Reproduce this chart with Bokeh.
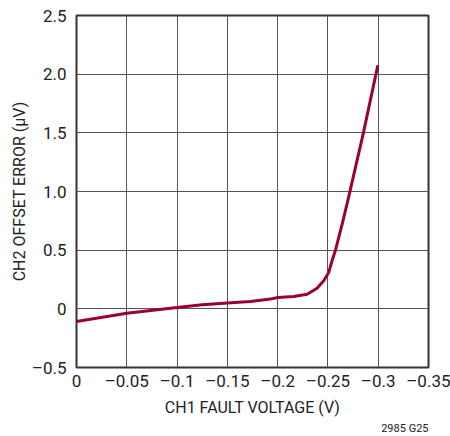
from bokeh.plotting import figure
from bokeh.models import Range1d, FixedTicker, Title
from bokeh.embed import file_html
from bokeh.resources import INLINE

# data
fault_v = [0, -0.05, -0.1, -0.125, -0.15, -0.1728, -0.183, -0.1927, -0.2,
           -0.216, -0.2293, -0.2392, -0.2458, -0.2508, -0.2541, -0.2575,
           -0.2641, -0.2697, -0.285, -0.2994]
offset_uv = [-0.108, -0.037, 0.011, 0.034, 0.05, 0.062, 0.074, 0.083, 0.096,
             0.105, 0.125, 0.176, 0.239, 0.31, 0.41, 0.50,
             0.72, 0.92, 1.489, 2.066]

x_ticks = [0, -0.05, -0.1, -0.15, -0.2, -0.25, -0.3, -0.35]
x_tick_labels = ["0", "–0.05", "–0.1", "–0.15", "–0.2", "–0.25", "–0.3", "–0.35"]
y_ticks = [-0.5, 0, 0.5, 1.0, 1.5, 2.0, 2.5]
y_tick_labels = ["–0.5", "0", "0.5", "1.0", "1.5", "2.0", "2.5"]

FONT = "Roboto"

p = figure(frame_width=352, frame_height=352, output_backend="svg",
           toolbar_location=None,
           x_range=Range1d(0, -0.35), y_range=Range1d(-0.5, 2.5),
           min_border_left=76, min_border_right=22, min_border_top=15,
           min_border_bottom=69)

p.line(fault_v, offset_uv, line_color="#9B0032", line_width=3,
       line_join="round", line_cap="round")

for ax, ticks, labels in ((p.xaxis[0], x_ticks, x_tick_labels),
                          (p.yaxis[0], y_ticks, y_tick_labels)):
    ax.ticker = FixedTicker(ticks=ticks)
    ax.major_label_overrides = {t: l for t, l in zip(ticks, labels)}
    ax.major_tick_line_color = None
    ax.minor_tick_line_color = None
    ax.major_tick_out = 0
    ax.major_tick_in = 0
    ax.minor_tick_out = 0
    ax.minor_tick_in = 0
    ax.axis_line_color = None
    ax.major_label_text_font = FONT
    ax.major_label_text_font_size = "17px"
    ax.major_label_text_line_height = 1.0
    ax.major_label_text_color = "#222222"
    ax.axis_label_text_font = FONT
    ax.axis_label_text_font_size = "16px"
    ax.axis_label_text_line_height = 1.0
    ax.axis_label_text_font_style = "normal"
    ax.axis_label_text_color = "#222222"

p.xaxis.axis_label = "CH1 FAULT VOLTAGE (V)"
p.yaxis.axis_label = "CH2 OFFSET ERROR (μV)"
p.xaxis.major_label_standoff = 3
p.yaxis.major_label_standoff = 10
p.xaxis.axis_label_standoff = 4
p.yaxis.axis_label_standoff = 0

p.xgrid.ticker = FixedTicker(ticks=x_ticks)
p.ygrid.ticker = FixedTicker(ticks=y_ticks)
p.grid.grid_line_color = "#555555"
p.grid.grid_line_width = 1

p.outline_line_color = "#333333"
p.outline_line_width = 2
p.background_fill_color = "white"
p.border_fill_color = "white"

note = Title(text="2985 G25", align="right", text_font=FONT,
             text_font_size="11px", text_font_style="normal",
             text_color="#222222", standoff=0, text_line_height=1.0)
p.add_layout(note, "below")

open("out.html", "w").write(file_html(p, INLINE))
